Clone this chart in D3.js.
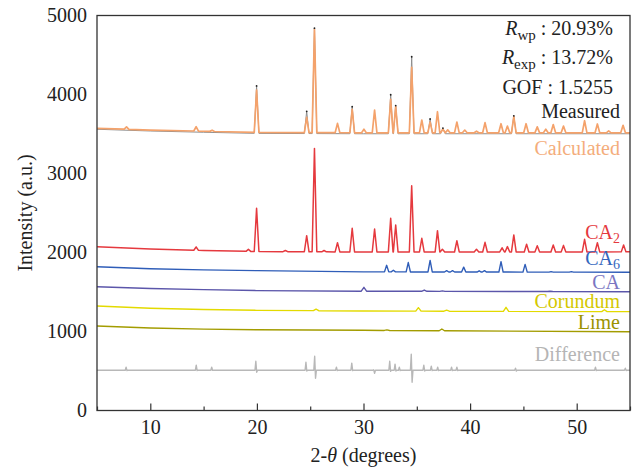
<!DOCTYPE html>
<meta charset="utf-8">
<style>
body { margin: 0; background: #fff; }
.tick line { stroke: #333; stroke-width: 1.2px; }
.domain { display: none; }
.trace { fill: none; stroke-linejoin: round; }
</style>
<body>
<script src="https://d3js.org/d3.v7.min.js"></script>
<script>

// background knots [2θ, intensity] and peak tops [2θ, intensity]
var calcBase = [[5,3572],[10,3550],[15,3535],[20,3520],[30,3515],[55,3515]]
var calcPeaks = [[7.77,3590],[14.3,3592],[15.8,3548],[19.97,4057],[24.67,3711],[25.4,4825],
  [27.56,3635],[28.94,3812],[30.04,3560],[31.04,3804],[32.55,3939],[33.02,3846],[34.52,4344],
  [35.47,3677],[36.25,3650],[36.94,3782],[37.45,3560],[37.9,3552],[38.76,3652],[39.5,3550],
  [40.6,3535],[41.4,3643],[42.9,3630],[43.5,3600],[44.1,3719],[45.25,3630],[46.3,3590],
  [47.1,3560],[47.8,3620],[48.76,3600],[50.74,3668],[51.94,3627],[53.0,3540],[54.35,3610]]

var measBase = [[5,3560],[10,3538],[15,3522],[20,3508],[30,3503],[55,3503]]
var measTops = [[19.97,4108],[24.67,3787],[25.4,4840],[28.94,3846],[32.55,3997],[33.02,3860],
  [34.52,4478],[36.25,3690],[37.45,3575],[44.1,3730]]

var ca2Base = [[5,2074],[10,2045],[15,2025],[20,2012],[30,2006],[55,2008]]
var ca2Peaks = [[14.3,2070],[19.2,2040],[19.97,2559],[22.67,2025],[24.67,2213],[25.4,3318],
  [26.3,2025],[27.56,2124],[28.94,2306],[31.04,2297],[32.55,2433],[33.02,2348],[34.52,2846],
  [35.47,2180],[36.94,2276],[37.4,2040],[38.76,2149],[40.6,2040],[41.4,2129],[43.0,2060],
  [43.5,2075],[44.1,2222],[45.3,2104],[46.3,2085],[47.8,2095],[48.76,2090],[50.74,2167],
  [51.94,2124],[54.4,2095]]

var ca6Base = [[5,1820],[10,1795],[15,1780],[20,1770],[30,1755],[55,1750]]
var ca6Peaks = [[32.17,1838],[32.8,1775],[34.2,1873],[36.25,1900],[37.8,1770],[38.35,1770],
  [39.4,1815],[40.85,1768],[41.35,1770],[42.9,1884],[45.16,1850],[47.6,1758],[49.5,1758]]

var caBase = [[5,1567],[10,1545],[15,1530],[20,1518],[30,1510],[55,1504]]
var caPeaks = [[30.04,1559],[35.7,1525],[37.4,1514],[47.5,1510]]

var corBase = [[5,1323],[10,1295],[15,1278],[20,1268],[30,1260],[55,1251]]
var corPeaks = [[25.55,1283],[35.15,1302],[37.8,1270],[43.37,1306],[52.6,1275]]

var limeBase = [[5,1070],[10,1045],[15,1030],[20,1022],[30,1015],[55,997]]
var limePeaks = [[32.2,1020],[37.35,1032]]

// difference: [2θ, high, low]
var diffLevel = 510
var diffSpikes = [[7.77,548,505],[14.35,573,505],[15.8,548,510],[19.94,624,485],[24.64,611,500],
  [25.46,687,409],[27.5,548,505],[28.94,599,505],[31.0,515,472],[32.5,624,495],[33.0,586,500],
  [33.4,548,505],[34.52,713,358],[35.7,573,500],[36.4,561,505],[37.0,548,505],[38.3,548,505],
  [38.8,548,505],[44.3,535,500],[51.8,548,505],[54.6,535,505]]

var xMajor = [10, 20, 30, 40, 50]
var xMinor = [5, 15, 25, 35, 45, 55]
var yTicks = [0, 1000, 2000, 3000, 4000, 5000]

var serif = "'Liberation Serif', 'Times New Roman', 'DejaVu Serif', serif"
var width = 635, height = 470
var margin = {top: 15.5, right: 5, bottom: 59.5, left: 97}

var svg = d3.select("body").append("svg")
    .attr("width", width)
    .attr("height", height)
    .style("font-family", serif)

var x = d3.scaleLinear().domain([5, 55]).range([margin.left, width - margin.right])
var y = d3.scaleLinear().domain([0, 5000]).range([height - margin.bottom, margin.top])

function profile(base, peaks, hw) {
  var bg = d3.scaleLinear().domain(base.map(d => d[0])).range(base.map(d => d[1]))
  var pts = base.filter(function(b) {
    return !peaks.some(p => Math.abs(p[0] - b[0]) < hw)
  })
  peaks.forEach(function(p) {
    pts.push([p[0] - hw, bg(p[0] - hw)], [p[0], p[1]], [p[0] + hw, bg(p[0] + hw)])
  })
  return pts.sort((a, b) => a[0] - b[0])
}

function diffProfile(level, spikes) {
  var pts = [[5, level], [55, level]]
  spikes.forEach(function(s) {
    pts.push([s[0] - 0.12, level], [s[0] - 0.04, s[1]], [s[0] + 0.04, s[2]], [s[0] + 0.12, level])
  })
  return pts.sort((a, b) => a[0] - b[0])
}

var line = d3.line().x(d => x(d[0])).y(d => y(d[1]))

var traces = [
  {pts: profile(limeBase, limePeaks, 0.25), color: "#a39c00", w: 1.4},
  {pts: profile(corBase, corPeaks, 0.25), color: "#e3da00", w: 1.4},
  {pts: profile(caBase, caPeaks, 0.25), color: "#5b56aa", w: 1.4},
  {pts: profile(ca6Base, ca6Peaks, 0.2), color: "#2f5db8", w: 1.4},
  {pts: profile(ca2Base, ca2Peaks, 0.22), color: "#e5393e", w: 1.5},
  {pts: diffProfile(diffLevel, diffSpikes), color: "#b8b8b8", w: 1.4},
  {pts: profile(measBase, measTops, 0.22), color: "#8e8e8e", w: 1},
  {pts: profile(calcBase, calcPeaks, 0.22), color: "#f4a26b", w: 1.7}
]

svg.selectAll("path.trace")
  .data(traces)
  .enter().append("path")
    .attr("class", "trace")
    .attr("d", d => line(d.pts))
    .attr("stroke", d => d.color)
    .attr("stroke-width", d => d.w)

// measured points showing above the fit
svg.selectAll("circle.meas")
  .data(measTops)
  .enter().append("circle")
    .attr("class", "meas")
    .attr("cx", d => x(d[0]))
    .attr("cy", d => y(d[1]))
    .attr("r", 0.9)
    .attr("fill", "#222")

// axes
svg.append("g")
    .attr("transform", "translate(0," + y(0) + ")")
    .call(d3.axisBottom(x).tickValues(xMajor).tickSizeInner(-7).tickSizeOuter(0).tickPadding(9))
svg.append("g")
    .attr("transform", "translate(0," + y(0) + ")")
    .call(d3.axisBottom(x).tickValues(xMinor).tickSizeInner(-4).tickSizeOuter(0).tickFormat(""))
svg.append("g")
    .attr("transform", "translate(" + x(5) + ",0)")
    .call(d3.axisLeft(y).tickValues(yTicks).tickSize(0).tickPadding(10).tickFormat(d3.format("d")))

svg.selectAll(".tick text")
    .style("font-family", serif)
    .style("font-size", "20px")
    .attr("fill", "#222")

svg.append("rect")
    .attr("x", x(5))
    .attr("y", y(5000))
    .attr("width", x(55) - x(5))
    .attr("height", y(0) - y(5000))
    .attr("fill", "none")
    .attr("stroke", "#333")
    .attr("stroke-width", 1.3)

// axis titles
var xt = svg.append("text")
    .attr("x", (x(5) + x(55)) / 2)
    .attr("y", 462)
    .attr("text-anchor", "middle")
    .style("font-size", "20px")
    .attr("fill", "#222")
xt.append("tspan").text("2-")
xt.append("tspan").style("font-style", "italic").text("θ")
xt.append("tspan").text(" (degrees)")

svg.append("text")
    .attr("transform", "translate(32," + (y(0) + y(5000)) / 2 + ") rotate(-90)")
    .attr("text-anchor", "middle")
    .style("font-size", "20px")
    .attr("fill", "#222")
    .text("Intensity (a.u.)")

// fit statistics
var stats = [
  {sym: "R", sub: "wp", val: " : 20.93%", y: 35},
  {sym: "R", sub: "exp", val: " : 13.72%", y: 64},
  {sym: "", sub: "", val: "GOF : 1.5255", y: 94}
]
stats.forEach(function(s) {
  var t = svg.append("text").attr("x", 613).attr("y", s.y)
      .attr("text-anchor", "end").style("font-size", "20px").attr("fill", "#222")
  if (s.sym) {
    t.append("tspan").style("font-style", "italic").text(s.sym)
    t.append("tspan").attr("dy", 5).style("font-size", "15px").text(s.sub)
    t.append("tspan").attr("dy", -5).text(s.val)
  } else {
    t.append("tspan").text(s.val)
  }
})

// series labels
var labels = [
  {name: "Measured", sub: "", y: 118, color: "#222"},
  {name: "Calculated", sub: "", y: 155, color: "#f4ad7c"},
  {name: "CA", sub: "2", y: 239, color: "#e5393e"},
  {name: "CA", sub: "6", y: 265, color: "#3466bd"},
  {name: "CA", sub: "", y: 289, color: "#7b76c2"},
  {name: "Corundum", sub: "", y: 308, color: "#d3c800"},
  {name: "Lime", sub: "", y: 329, color: "#9b9300"},
  {name: "Difference", sub: "", y: 361, color: "#b5b5b5"}
]
labels.forEach(function(l) {
  var t = svg.append("text").attr("x", 620).attr("y", l.y)
      .attr("text-anchor", "end").style("font-size", "20px").attr("fill", l.color)
  t.append("tspan").text(l.name)
  if (l.sub) t.append("tspan").attr("dy", 4).style("font-size", "14px").text(l.sub)
})
</script>
